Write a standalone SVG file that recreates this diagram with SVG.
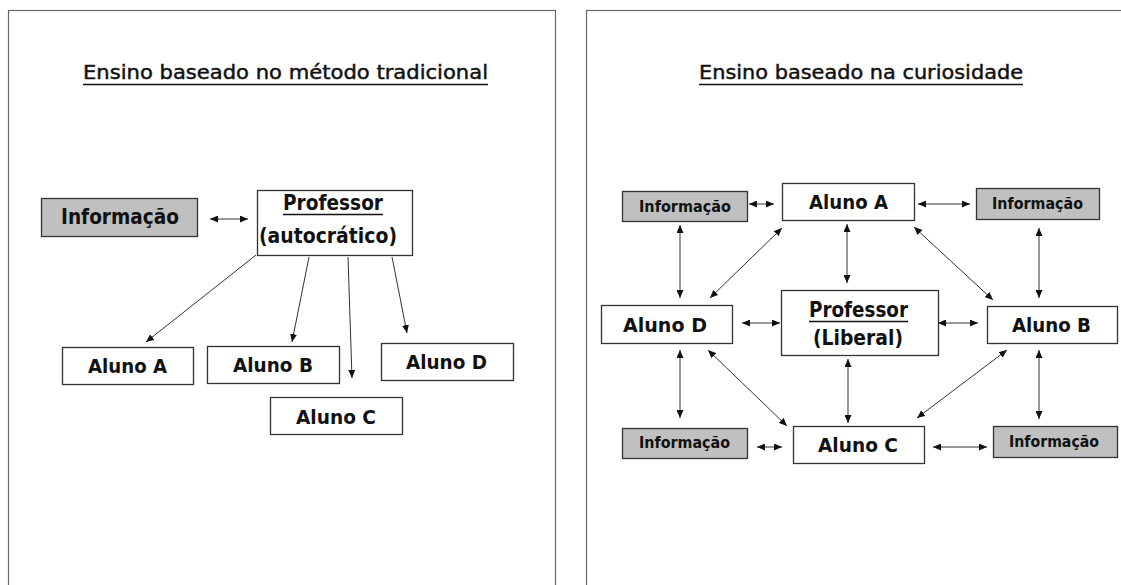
<svg xmlns="http://www.w3.org/2000/svg" width="1121" height="585" viewBox="0 0 1121 585">
<style>
.panel{fill:#fff;stroke:#666;stroke-width:1.2}
.box{fill:#fff;stroke:#333;stroke-width:1.3}
.info{fill:#c0c0c0;stroke:#333;stroke-width:1.3}
.t{font-family:"DejaVu Sans",Verdana,sans-serif;font-weight:bold;fill:#111}
.title{font-family:"DejaVu Sans",Verdana,sans-serif;font-size:19.5px;fill:#111;stroke:#111;stroke-width:0.45}
.ul{stroke:#111;stroke-width:1.5}
.c{stroke:#333;stroke-width:1;fill:none}
.b{marker-start:url(#ah);marker-end:url(#ah)}
.e{marker-end:url(#ah)}
</style>
<defs>
<marker id="ah" markerUnits="userSpaceOnUse" markerWidth="8" markerHeight="7" refX="8" refY="3.5" orient="auto-start-reverse">
<path d="M0,0 L8,3.5 L0,7 z" fill="#111"/>
</marker>
</defs>
<rect width="1121" height="585" fill="#fff"/>
<rect class="panel" x="8.5" y="10.5" width="547" height="600"/>
<rect class="panel" x="586.5" y="10.5" width="600" height="600"/>

<g id="title-left">
<text class="title" x="83" y="79" textLength="405" lengthAdjust="spacingAndGlyphs">Ensino baseado no método tradicional</text>
<line class="ul" x1="83" y1="84.5" x2="488" y2="84.5"/>
</g>
<g id="title-right">
<text class="title" x="699" y="79" textLength="324" lengthAdjust="spacingAndGlyphs">Ensino baseado na curiosidade</text>
<line class="ul" x1="699" y1="84.5" x2="1023" y2="84.5"/>
</g>

<g id="connectors">
<line class="c b" x1="210" y1="219" x2="248" y2="219"/>
<line class="c e" x1="256" y1="255" x2="146" y2="342"/>
<line class="c e" x1="309" y1="257" x2="292" y2="342"/>
<line class="c e" x1="348" y1="257" x2="352" y2="378"/>
<line class="c e" x1="392" y1="257" x2="407" y2="333"/>

<line class="c b" x1="749" y1="204" x2="774" y2="204"/>
<line class="c b" x1="918" y1="204" x2="970" y2="204"/>
<line class="c b" x1="680" y1="225" x2="680" y2="298"/>
<line class="c b" x1="782" y1="228" x2="710" y2="298"/>
<line class="c b" x1="847" y1="224" x2="847" y2="283"/>
<line class="c b" x1="914" y1="227" x2="993" y2="300"/>
<line class="c b" x1="1039" y1="228" x2="1039" y2="298"/>
<line class="c b" x1="742" y1="323" x2="780" y2="323"/>
<line class="c b" x1="938" y1="323" x2="978" y2="323"/>
<line class="c b" x1="680" y1="350" x2="680" y2="418"/>
<line class="c b" x1="708" y1="350" x2="787" y2="426"/>
<line class="c b" x1="848" y1="359" x2="848" y2="423"/>
<line class="c b" x1="1007" y1="350" x2="917" y2="418"/>
<line class="c b" x1="1039" y1="350" x2="1039" y2="419"/>
<line class="c b" x1="757" y1="447" x2="782" y2="447"/>
<line class="c b" x1="933" y1="447" x2="987" y2="447"/>
</g>

<g id="l-info">
<rect class="info" x="41.5" y="198.5" width="156" height="38"/>
<text class="t" x="61" y="224" font-size="22" textLength="118" lengthAdjust="spacingAndGlyphs">Informação</text>
</g>
<g id="l-professor">
<rect class="box" x="257.5" y="190.5" width="155" height="65"/>
<text class="t" x="283" y="210" font-size="21" textLength="100" lengthAdjust="spacingAndGlyphs">Professor</text>
<line class="ul" x1="283" y1="214.5" x2="383" y2="214.5"/>
<text class="t" x="259" y="243" font-size="21" textLength="138" lengthAdjust="spacingAndGlyphs">(autocrático)</text>
</g>
<g id="l-aluno-a">
<rect class="box" x="62.5" y="347.5" width="131" height="37"/>
<text class="t" x="88" y="373" font-size="20" textLength="79" lengthAdjust="spacingAndGlyphs">Aluno A</text>
</g>
<g id="l-aluno-b">
<rect class="box" x="207.5" y="346.5" width="132" height="37"/>
<text class="t" x="233" y="372" font-size="20" textLength="80" lengthAdjust="spacingAndGlyphs">Aluno B</text>
</g>
<g id="l-aluno-d">
<rect class="box" x="381.5" y="343.5" width="132" height="37"/>
<text class="t" x="406" y="369" font-size="20" textLength="81" lengthAdjust="spacingAndGlyphs">Aluno D</text>
</g>
<g id="l-aluno-c">
<rect class="box" x="270.5" y="397.5" width="132" height="37"/>
<text class="t" x="296" y="424" font-size="20" textLength="80" lengthAdjust="spacingAndGlyphs">Aluno C</text>
</g>

<g id="r-info-tl">
<rect class="info" x="622.5" y="191.5" width="125" height="30"/>
<text class="t" x="639" y="212" font-size="16" textLength="92" lengthAdjust="spacingAndGlyphs">Informação</text>
</g>
<g id="r-aluno-a">
<rect class="box" x="782.5" y="183.5" width="132" height="37"/>
<text class="t" x="809" y="209" font-size="20" textLength="79" lengthAdjust="spacingAndGlyphs">Aluno A</text>
</g>
<g id="r-info-tr">
<rect class="info" x="976.5" y="188.5" width="123" height="31"/>
<text class="t" x="992" y="209" font-size="16" textLength="91" lengthAdjust="spacingAndGlyphs">Informação</text>
</g>
<g id="r-aluno-d">
<rect class="box" x="601.5" y="305.5" width="131" height="38"/>
<text class="t" x="623" y="332" font-size="20" textLength="84" lengthAdjust="spacingAndGlyphs">Aluno D</text>
</g>
<g id="r-professor">
<rect class="box" x="781.5" y="290.5" width="157" height="65"/>
<text class="t" x="809" y="317" font-size="21" textLength="99" lengthAdjust="spacingAndGlyphs">Professor</text>
<line class="ul" x1="809" y1="321.5" x2="908" y2="321.5"/>
<text class="t" x="813" y="345" font-size="21" textLength="90" lengthAdjust="spacingAndGlyphs">(Liberal)</text>
</g>
<g id="r-aluno-b">
<rect class="box" x="987.5" y="306.5" width="130" height="37"/>
<text class="t" x="1012" y="332" font-size="20" textLength="79" lengthAdjust="spacingAndGlyphs">Aluno B</text>
</g>
<g id="r-info-bl">
<rect class="info" x="622.5" y="428.5" width="125" height="30"/>
<text class="t" x="639" y="448" font-size="16" textLength="91" lengthAdjust="spacingAndGlyphs">Informação</text>
</g>
<g id="r-aluno-c">
<rect class="box" x="793.5" y="426.5" width="131" height="37"/>
<text class="t" x="818" y="452" font-size="20" textLength="80" lengthAdjust="spacingAndGlyphs">Aluno C</text>
</g>
<g id="r-info-br">
<rect class="info" x="993.5" y="426.5" width="124" height="31"/>
<text class="t" x="1009" y="447" font-size="16" textLength="90" lengthAdjust="spacingAndGlyphs">Informação</text>
</g>
</svg>
